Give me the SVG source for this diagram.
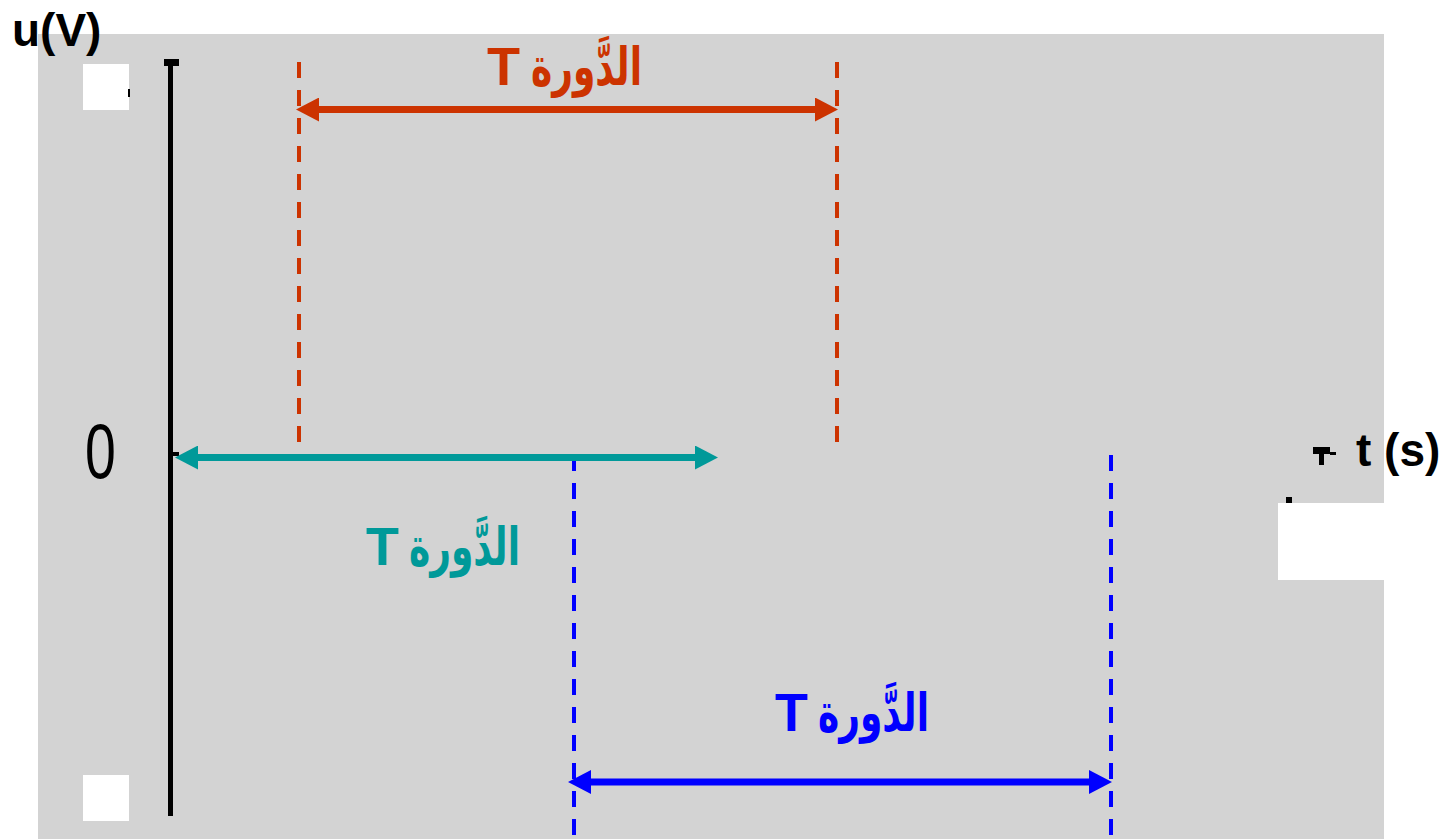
<svg xmlns="http://www.w3.org/2000/svg" width="1451" height="839" viewBox="0 0 1451 839">
<style>
.t{font-family:"Liberation Sans",Arial,sans-serif;font-weight:bold;font-size:54px}
.ar{font-family:"DejaVu Sans","Noto Sans",sans-serif;font-weight:bold;font-size:53px;text-anchor:end}
.ax{font-family:"Liberation Sans",Arial,sans-serif;font-weight:bold;font-size:46px;fill:#000}
.dash{stroke-width:4;stroke-dasharray:16 12;fill:none}
.arr{stroke-width:7;fill:none}
</style>
<defs>
<marker id="hr" markerUnits="userSpaceOnUse" markerWidth="23" markerHeight="24" viewBox="0 0 23 24" refX="0" refY="12" orient="auto-start-reverse"><path d="M0,0 L23,12 L0,24 Z" fill="#CC3300"/></marker>
<marker id="ht" markerUnits="userSpaceOnUse" markerWidth="23" markerHeight="24" viewBox="0 0 23 24" refX="0" refY="12" orient="auto-start-reverse"><path d="M0,0 L23,12 L0,24 Z" fill="#009999"/></marker>
<marker id="hb" markerUnits="userSpaceOnUse" markerWidth="23" markerHeight="24" viewBox="0 0 23 24" refX="0" refY="12" orient="auto-start-reverse"><path d="M0,0 L23,12 L0,24 Z" fill="#0000FF"/></marker>
</defs>
<rect width="1451" height="839" fill="#fff"/>
<rect x="38" y="34" width="1346" height="805" fill="#d3d3d3"/>
<rect x="1278" y="503" width="106" height="77" fill="#fff"/>
<g id="background-marks">
<rect x="83" y="64" width="46" height="46" fill="#fff"/>
<rect x="128" y="89" width="2" height="8" fill="#000"/>
<rect x="83" y="775" width="46" height="46" fill="#fff"/>
<rect x="1313" y="447" width="17" height="7" fill="#000"/>
<rect x="1319" y="447" width="5" height="18" fill="#000"/>
<rect x="1330" y="452" width="6" height="3" fill="#000"/>
<rect x="1286" y="497" width="6" height="6" fill="#000"/>
</g>
<g id="axes">
<rect x="164" y="59" width="15" height="7" fill="#000"/>
<rect x="168" y="59" width="5" height="757" fill="#000"/>
<rect x="173" y="452" width="6" height="4" fill="#000"/>
<text class="ax" x="12" y="46">u(V)</text>
<text class="ax" x="1356" y="466">t (s)</text>
<text x="0" y="0" transform="translate(85,478) scale(0.72,1)" font-family="Liberation Sans, sans-serif" font-size="77" fill="#000">0</text>
</g>
<g id="connectors">
<line class="dash" x1="299" y1="62" x2="299" y2="442" stroke="#CC3300"/>
<line class="dash" x1="837" y1="62" x2="837" y2="442" stroke="#CC3300"/>
<line class="dash" x1="574" y1="455" x2="574" y2="839" stroke="#0000FF"/>
<line class="dash" x1="1111" y1="455" x2="1111" y2="839" stroke="#0000FF"/>
<line class="arr" x1="319" y1="109.5" x2="815" y2="109.5" stroke="#CC3300" marker-start="url(#hr)" marker-end="url(#hr)"/>
<line class="arr" x1="198" y1="457.5" x2="695" y2="457.5" stroke="#009999" marker-start="url(#ht)" marker-end="url(#ht)"/>
<line class="arr" x1="591" y1="782" x2="1089" y2="782" stroke="#0000FF" marker-start="url(#hb)" marker-end="url(#hb)"/>
</g>
<g id="label-red" fill="#CC3300">
<text class="t" x="487" y="85">T</text>
<text class="ar" transform="translate(642,85) scale(0.68,1)">الدَّورة</text>
</g>
<g id="label-teal" fill="#009999">
<text class="t" x="366" y="565">T</text>
<text class="ar" transform="translate(520,565) scale(0.68,1)">الدَّورة</text>
</g>
<g id="label-blue" fill="#0000FF">
<text class="t" x="775" y="731">T</text>
<text class="ar" transform="translate(929,731) scale(0.68,1)">الدَّورة</text>
</g>
</svg>
